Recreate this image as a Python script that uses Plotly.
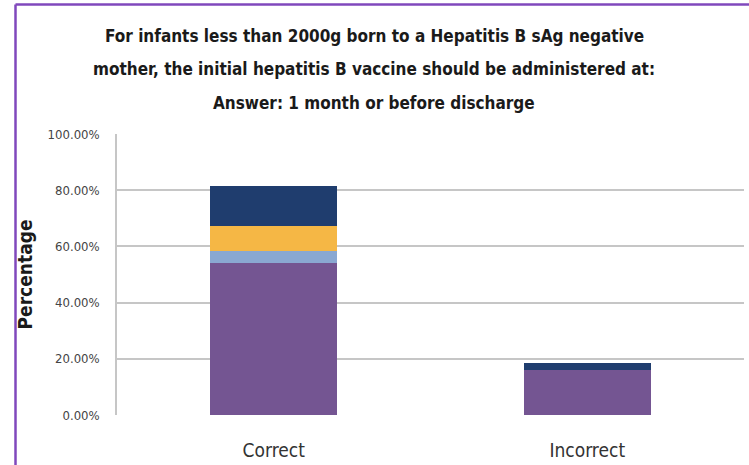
import plotly.graph_objects as go

categories = ["Correct", "Incorrect"]
series_names = ["Group 1", "Group 2", "Group 3", "Group 4"]
series_values = {
    "Group 1": [54.0, 16.0],
    "Group 2": [4.3, 0.0],
    "Group 3": [9.0, 0.0],
    "Group 4": [14.3, 2.4],
}
series_colors = {
    "Group 1": "#745592",
    "Group 2": "#8AA8D2",
    "Group 3": "#F5B745",
    "Group 4": "#1F3D6E",
}
tick_vals = [0, 20, 40, 60, 80, 100]
tick_text = ["0.00%", "20.00%", "40.00%", "60.00%", "80.00%", "100.00%"]

title_lines = [
    "For infants less than 2000g born to a Hepatitis B sAg negative",
    "mother, the initial hepatitis B vaccine should be administered at:",
    "Answer: 1 month or before discharge",
]

W, H = 749, 465
L, R, T, B = 117, 5, 134, 50
pw, ph = W - L - R, H - T - B

fig = go.Figure()
for name in series_names:
    fig.add_trace(go.Bar(
        x=categories, y=series_values[name], name=name,
        marker=dict(color=series_colors[name], line=dict(width=0)),
        hoverinfo="skip",
    ))

NARROW = "Liberation Sans Narrow, Arial Narrow, DejaVu Sans Condensed, sans-serif"

fig.update_layout(
    width=W, height=H,
    barmode="stack", bargap=0.595,
    showlegend=False,
    paper_bgcolor="white", plot_bgcolor="white",
    margin=dict(l=L, r=R, t=T, b=B),
    xaxis=dict(showgrid=False, showline=False, ticks="", ticklabelstandoff=22,
               tickfont=dict(family=NARROW, size=19, color="#333333")),
    yaxis=dict(range=[0, 100], tickvals=tick_vals, ticktext=tick_text,
               showgrid=True, gridcolor="#C6C6C6", gridwidth=1.5,
               showline=True, linecolor="#C6C6C6", linewidth=1.5,
               zeroline=False, ticks="", ticklabelstandoff=13,
               tickfont=dict(family=NARROW, size=13, color="#444444"),
               title=dict(text="<b>Percentage</b>", standoff=10,
                          font=dict(family=NARROW, size=19, color="#1a1a1a"))),
)

def px_x(X):
    return (X - L) / pw

def px_y(Y):
    return (H - B - Y) / ph

title_y = [36, 69, 103]
for line, yy in zip(title_lines, title_y):
    fig.add_annotation(text="<b>" + line + "</b>", xref="paper", yref="paper",
                       x=px_x(374), y=px_y(yy), xanchor="center", yanchor="middle",
                       showarrow=False,
                       font=dict(family=NARROW, size=17, color="#1a1a1a"))

border = "#8048BC"
fig.add_shape(type="line", xref="paper", yref="paper",
              x0=px_x(15.5), x1=px_x(W + 2), y0=px_y(4.5), y1=px_y(4.5),
              line=dict(color=border, width=2.5))
fig.add_shape(type="line", xref="paper", yref="paper",
              x0=px_x(15.5), x1=px_x(15.5), y0=px_y(4.5), y1=px_y(H + 2),
              line=dict(color=border, width=2.5))

fig.write_html("out.html")
